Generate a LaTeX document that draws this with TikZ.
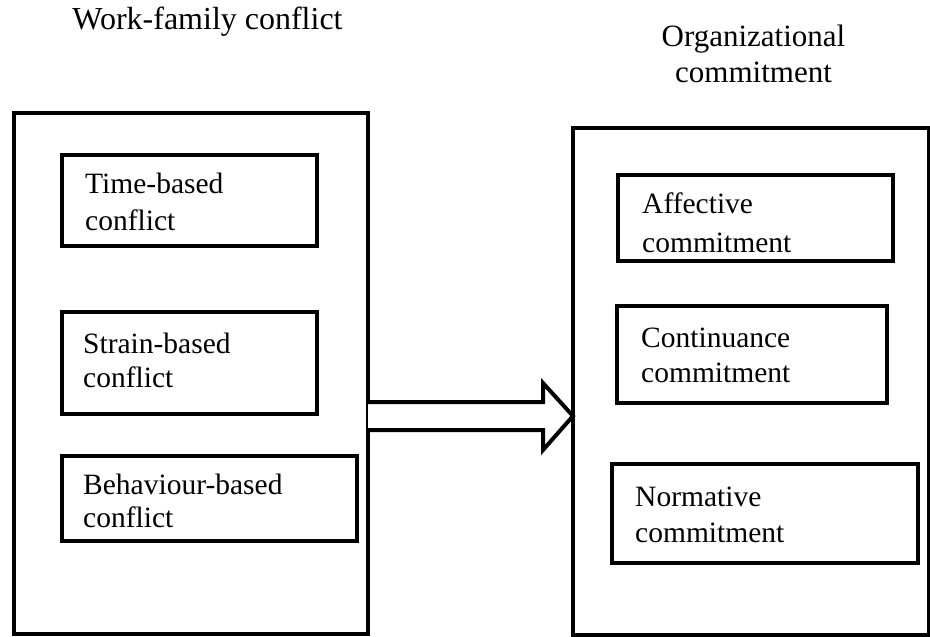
\documentclass[tikz,border=0pt]{standalone}
\usepackage{fontspec}
\setmainfont{Liberation Serif}
\begin{document}
\begin{tikzpicture}[x=1pt,y=-1pt,
  outerbox/.style={draw, line width=4pt, anchor=north west, inner sep=0pt, outer sep=0pt},
  innerbox/.style={draw, line width=4.5pt, anchor=north west, inner sep=0pt, outer sep=0pt},
  bigarrow/.style={draw, line width=4pt, fill=white, line join=miter},
  lbl/.style={anchor=base west, inner sep=0pt, font=\fontsize{29.5}{35}\selectfont},
  ttl/.style={anchor=base, inner sep=0pt, font=\fontsize{31}{37}\selectfont}]
\useasboundingbox (0,0) rectangle (930,637);

% outer boxes
\node[outerbox, minimum width=354pt, minimum height=521pt] (wfc) at (14,113) {};
\node[outerbox, minimum width=356pt, minimum height=507pt] (oc) at (573,128) {};

% inner boxes, left
\node[innerbox, minimum width=255pt, minimum height=91pt] (tb) at (62,155) {};
\node[innerbox, minimum width=255pt, minimum height=102pt] (sb) at (62,312) {};
\node[innerbox, minimum width=295pt, minimum height=85pt] (bb) at (62,456) {};

% inner boxes, right
\node[innerbox, minimum width=275pt, minimum height=86pt] (ac) at (618,175) {};
\node[innerbox, minimum width=270pt, minimum height=97pt] (cc) at (617,306) {};
\node[innerbox, minimum width=306pt, minimum height=99pt] (nc) at (612,464) {};

% titles
\node[ttl, font=\fontsize{32}{38}\selectfont] (t1) at (207.5,30) {Work-family conflict};
\node[ttl] (t2a) at (753.5,46) {Organizational};
\node[ttl] (t2b) at (753.5,82) {commitment};

% labels
\node[lbl] (tb1) at (85,193) {Time-based};
\node[lbl] (tb2) at (85,230) {conflict};
\node[lbl] (sb1) at (83,353) {Strain-based};
\node[lbl] (sb2) at (83,387) {conflict};
\node[lbl] (bb1) at (83,494) {Behaviour-based};
\node[lbl] (bb2) at (83,527) {conflict};

\node[lbl] (ac1) at (642,213) {Affective};
\node[lbl] (ac2) at (642,252) {commitment};
\node[lbl] (cc1) at (641,347) {Continuance};
\node[lbl] (cc2) at (641,382) {commitment};
\node[lbl] (nc1) at (635,506) {Normative};
\node[lbl] (nc2) at (635,542) {commitment};

% block arrow
\draw[bigarrow] (wfc.east |- 0,402) -- (543,402) -- (543,383) -- (oc.west |- 0,416)
  -- (543,450) -- (543,430) -- (wfc.east |- 0,430);
\end{tikzpicture}
\end{document}
